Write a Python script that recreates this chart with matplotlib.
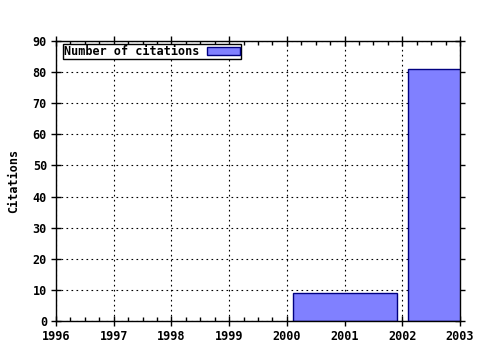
import matplotlib
matplotlib.use("Agg")
import matplotlib.pyplot as plt
from matplotlib.ticker import MultipleLocator

years = [2000, 2002]
citations = [9, 81]
xticks = [1996, 1997, 1998, 1999, 2000, 2001, 2002, 2003]
yticks = [0, 10, 20, 30, 40, 50, 60, 70, 80, 90]

plt.rcParams['font.family'] = ['DejaVu Sans Mono']
plt.rcParams['font.weight'] = 'bold'

fig = plt.figure(figsize=(4.8, 3.5), dpi=100)
ax = fig.add_axes([56/480, 1-321/350, (460-56)/480, (321-41)/350])

ax.bar([y + 0.1 for y in years], citations, width=1.8, align='edge',
       color='#8080ff', edgecolor='#000080', linewidth=1,
       label='Number of citations', zorder=3)

ax.set_xlim(1996, 2003)
ax.set_ylim(0, 90)
ax.set_xticks(xticks)
ax.set_yticks(yticks)
ax.xaxis.set_minor_locator(MultipleLocator(0.25))
ax.tick_params(axis='both', which='major', direction='inout', length=7, width=1,
               labelsize=8.5, top=True, right=True, pad=3)
ax.tick_params(axis='x', which='minor', direction='in', length=3, width=1, top=True)
for lbl in ax.get_xticklabels() + ax.get_yticklabels():
    lbl.set_fontweight('bold')
ax.grid(True, which='major', color='black', linestyle=(0, (1.5, 3)), linewidth=0.8, zorder=1)
for s in ax.spines.values():
    s.set_linewidth(1)
    s.set_color('black')
    s.set_zorder(4)

ax.set_ylabel('Citations', fontsize=8.5, fontweight='bold', labelpad=9)

leg = ax.legend(loc='upper left', bbox_to_anchor=(7/404, 1 - 3/280), markerfirst=False,
                fancybox=False, frameon=True, framealpha=1, edgecolor='black',
                fontsize=8.5, borderpad=0.1, handlelength=2.8, handleheight=0.6,
                handletextpad=0.6, borderaxespad=0)
leg.get_frame().set_linewidth(1)
for t in leg.get_texts():
    t.set_fontweight('bold')

fig.savefig('out.png', dpi=100, facecolor='white')
